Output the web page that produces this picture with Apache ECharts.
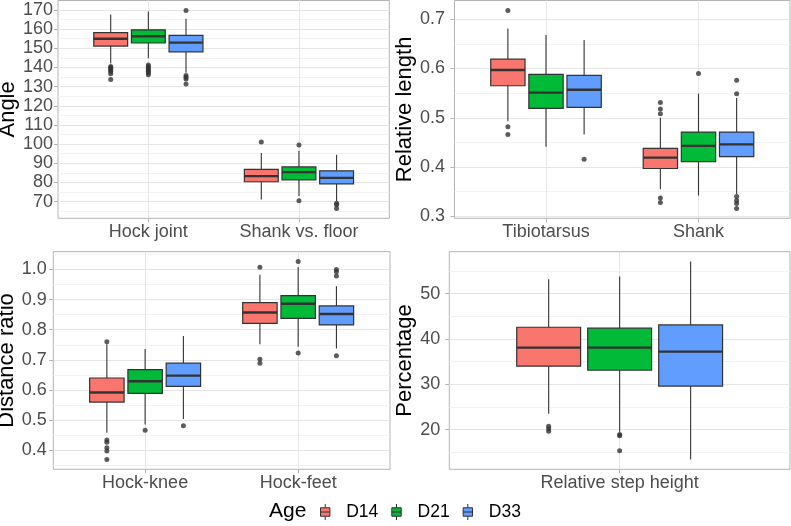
<!DOCTYPE html>
<html>
<head>
<meta charset="utf-8">
<script src="https://cdn.jsdelivr.net/npm/echarts@6/dist/echarts.min.js"></script>
<style>
html,body{margin:0;padding:0;background:#fff;}
#chart{width:791px;height:526px;}
</style>
</head>
<body>
<div id="chart"></div>
<script>
// ---------- data ----------
const ageGroups = ['D14', 'D21', 'D33'];
const groupColors = ['#F8766D', '#00BA38', '#619CFF'];

// boxes: [lower whisker, Q1, median, Q3, upper whisker] per category
const angleCats = ['Hock joint', 'Shank vs. floor'];
const angleD14 = [[142.0, 151.1, 154.9, 158.1, 167.6], [71.2, 80.4, 83.3, 86.8, 95.4]];
const angleD21 = [[144.8, 152.7, 156.2, 159.6, 169.1], [72.9, 81.4, 85.4, 88.1, 96.6]];
const angleD33 = [[137.2, 148.1, 152.9, 156.7, 165.3], [70.3, 79.3, 82.4, 86.1, 94.5]];
const angleOutD14 = [[140.4, 139.9, 139.3, 138.6, 137.8, 136.7, 133.7], [101.1]];
const angleOutD21 = [[141.3, 140.4, 139.6, 138.8, 138.0, 137.2, 136.2], [99.5, 70.5]];
const angleOutD33 = [[169.7, 135.8, 134.9, 134.0, 131.3], [69.2, 68.4, 66.5]];
const angleTicks = [70, 80, 90, 100, 110, 120, 130, 140, 150, 160, 170];
const angleMinorTicks = [65, 75, 85, 95, 105, 115, 125, 135, 145, 155, 165];

const lengthCats = ['Tibiotarsus', 'Shank'];
const lengthD14 = [[0.493, 0.565, 0.597, 0.619, 0.681], [0.355, 0.397, 0.419, 0.438, 0.500]];
const lengthD21 = [[0.441, 0.519, 0.551, 0.588, 0.668], [0.342, 0.411, 0.443, 0.471, 0.549]];
const lengthD33 = [[0.466, 0.521, 0.557, 0.586, 0.658], [0.345, 0.421, 0.446, 0.471, 0.540]];
const lengthOutD14 = [[0.718, 0.482, 0.466], [0.531, 0.518, 0.508, 0.337, 0.328]];
const lengthOutD21 = [[], [0.590]];
const lengthOutD33 = [[0.416], [0.576, 0.549, 0.340, 0.332, 0.326, 0.316]];
const lengthTicks = [0.3, 0.4, 0.5, 0.6, 0.7];
const lengthMinorTicks = [0.35, 0.45, 0.55, 0.65];

const distCats = ['Hock-knee', 'Hock-feet'];
const distD14 = [[0.458, 0.560, 0.592, 0.640, 0.752], [0.752, 0.821, 0.857, 0.890, 0.982]];
const distD21 = [[0.486, 0.589, 0.629, 0.668, 0.736], [0.744, 0.838, 0.886, 0.913, 1.008]];
const distD33 = [[0.504, 0.612, 0.648, 0.689, 0.779], [0.738, 0.816, 0.852, 0.879, 0.944]];
const distOutD14 = [[0.760, 0.434, 0.427, 0.409, 0.398, 0.370], [1.007, 0.702, 0.689]];
const distOutD21 = [[0.467], [1.026, 0.723]];
const distOutD33 = [[0.482], [1.000, 0.992, 0.978, 0.714]];
const distTicks = [0.4, 0.5, 0.6, 0.7, 0.8, 0.9, 1.0];
const distMinorTicks = [0.35, 0.45, 0.55, 0.65, 0.75, 0.85, 0.95, 1.05];

const stepCats = ['Relative step height'];
const stepD14 = [[23.5, 34.0, 38.1, 42.6, 53.2]];
const stepD21 = [[19.5, 33.1, 38.1, 42.4, 53.8]];
const stepD33 = [[13.4, 29.6, 37.2, 43.1, 57.1]];
const stepOutD14 = [[20.7, 20.2, 19.6]];
const stepOutD21 = [[18.9, 18.6, 15.3]];
const stepOutD33 = [[]];
const stepTicks = [20, 30, 40, 50];
const stepMinorTicks = [15, 25, 35, 45, 55];

// ---------- layout / style ----------
const FONT = '"Liberation Sans", Arial, Helvetica, sans-serif';
const DODGE = [-0.25, 0, 0.25];
const BOX_W = 0.225;

const panels = [
  { cats: angleCats, boxes: [angleD14, angleD21, angleD33], outs: [angleOutD14, angleOutD21, angleOutD33],
    major: angleTicks, minor: angleMinorTicks, name: 'Angle', digits: 0,
    rect: { left: 58, top: 0.5, width: 331.3, height: 217.8 }, labelMargin: 5, nameGap: 37 },
  { cats: lengthCats, boxes: [lengthD14, lengthD21, lengthD33], outs: [lengthOutD14, lengthOutD21, lengthOutD33],
    major: lengthTicks, minor: lengthMinorTicks, name: 'Relative length', digits: 1,
    rect: { left: 454.5, top: 0.5, width: 335.5, height: 217.8 }, labelMargin: 9.5, nameGap: 33 },
  { cats: distCats, boxes: [distD14, distD21, distD33], outs: [distOutD14, distOutD21, distOutD33],
    major: distTicks, minor: distMinorTicks, name: 'Distance ratio', digits: 1,
    rect: { left: 53.3, top: 251.7, width: 336.7, height: 217.6 }, labelMargin: 6.5, nameGap: 33 },
  { cats: stepCats, boxes: [stepD14, stepD21, stepD33], outs: [stepOutD14, stepOutD21, stepOutD33],
    major: stepTicks, minor: stepMinorTicks, name: 'Percentage', digits: 0,
    rect: { left: 449.3, top: 251.7, width: 340.7, height: 217.6 }, labelMargin: 9, nameGap: 29 }
];

function renderBox(params, api) {
  const x = api.value(0);
  const lo = api.coord([x, api.value(1)]);
  const q1 = api.coord([x, api.value(2)]);
  const med = api.coord([x, api.value(3)]);
  const q3 = api.coord([x, api.value(4)]);
  const hi = api.coord([x, api.value(5)]);
  const half = api.size([BOX_W, 0])[0] / 2;
  const color = api.visual('color');
  const edge = '#333333';
  return {
    type: 'group',
    children: [
      { type: 'line', shape: { x1: lo[0], y1: lo[1], x2: q1[0], y2: q1[1] }, style: { stroke: edge, lineWidth: 1.1 } },
      { type: 'line', shape: { x1: q3[0], y1: q3[1], x2: hi[0], y2: hi[1] }, style: { stroke: edge, lineWidth: 1.1 } },
      { type: 'rect', shape: { x: q3[0] - half, y: q3[1], width: half * 2, height: q1[1] - q3[1] },
        style: { fill: color, stroke: edge, lineWidth: 1.2 } },
      { type: 'line', shape: { x1: med[0] - half, y1: med[1], x2: med[0] + half, y2: med[1] },
        style: { stroke: edge, lineWidth: 2.4 } }
    ]
  };
}

const grids = [], xAxes = [], yAxes = [], series = [];
panels.forEach(function (p, pi) {
  let all = [];
  p.boxes.forEach(g => g.forEach(b => { all = all.concat(b); }));
  p.outs.forEach(g => g.forEach(o => { all = all.concat(o); }));
  const dmin = Math.min.apply(null, all), dmax = Math.max.apply(null, all);
  const pad = (dmax - dmin) * 0.05;
  const ymin = dmin - pad, ymax = dmax + pad;
  const n = p.cats.length;
  const catPos = p.cats.map((c, i) => i + 1);

  grids.push({
    left: p.rect.left, top: p.rect.top, width: p.rect.width, height: p.rect.height,
    show: true, borderColor: '#B3B3B3', borderWidth: 1, backgroundColor: 'transparent',
    containLabel: false, outerBoundsMode: 'none'
  });
  xAxes.push({
    type: 'value', gridIndex: pi, min: 0.4, max: n + 0.6,
    axisLine: { show: false, onZero: false },
    axisTick: { show: true, length: 4, lineStyle: { color: '#B3B3B3', width: 1 }, customValues: catPos },
    axisLabel: { show: true, customValues: catPos, margin: 5, color: '#4D4D4D', fontSize: 18, fontFamily: FONT,
      formatter: function (v) { return p.cats[Math.round(v) - 1] || ''; } },
    splitLine: { show: true, lineStyle: { color: '#E6E6E6', width: 1 } }
  });
  yAxes.push({
    type: 'value', gridIndex: pi, min: ymin, max: ymax,
    name: p.name, nameLocation: 'middle', nameGap: p.nameGap,
    nameTextStyle: { color: '#000', fontSize: 22, fontFamily: FONT },
    axisLine: { show: false, onZero: false },
    axisTick: { show: true, length: 4, lineStyle: { color: '#B3B3B3', width: 1 }, customValues: p.major },
    axisLabel: { show: true, customValues: p.major, margin: p.labelMargin, color: '#4D4D4D', fontSize: 18, fontFamily: FONT,
      formatter: function (v) { return v.toFixed(p.digits); } },
    splitLine: { show: true, lineStyle: { color: '#E6E6E6', width: 1 } }
  });
  yAxes.push({
    type: 'value', gridIndex: pi, min: ymin, max: ymax, position: 'left', offset: 0,
    axisLine: { show: false, onZero: false },
    axisTick: { show: false, customValues: p.minor },
    axisLabel: { show: false, customValues: p.minor },
    splitLine: { show: true, lineStyle: { color: '#F3F3F3', width: 1 } }
  });

  ageGroups.forEach(function (age, g) {
    series.push({
      type: 'custom', name: age, xAxisIndex: pi, yAxisIndex: pi * 2,
      color: groupColors[g], itemStyle: { color: groupColors[g] },
      encode: { x: 0, y: [1, 2, 3, 4, 5] },
      renderItem: renderBox,
      data: p.boxes[g].map((b, c) => [c + 1 + DODGE[g]].concat(b)),
      z: 3, silent: true, animation: false
    });
    const pts = [];
    p.outs[g].forEach((vals, c) => vals.forEach(v => pts.push([c + 1 + DODGE[g], v])));
    series.push({
      type: 'scatter', name: 'outlier', xAxisIndex: pi, yAxisIndex: pi * 2,
      symbol: 'circle', symbolSize: 5, itemStyle: { color: '#333333' },
      data: pts, z: 4, silent: true, animation: false
    });
  });
});

const chart = echarts.init(document.getElementById('chart'), null, { renderer: 'canvas' });
chart.setOption({
  animation: false,
  backgroundColor: '#ffffff',
  textStyle: { fontFamily: FONT },
  title: {
    text: 'Age', left: 264, top: 496,
    textStyle: { color: '#000', fontSize: 21, fontWeight: 'normal', fontFamily: FONT }
  },
  legend: {
    data: ageGroups, left: 315, top: 498, orient: 'horizontal',
    icon: 'path://M5,0L5,4M0,4L10,4L10,13L0,13ZM0,8.5L10,8.5M5,13L5,17',
    itemWidth: 10, itemHeight: 16, itemGap: 13,
    itemStyle: { borderColor: '#333333', borderWidth: 1 },
    textStyle: { color: '#000', fontSize: 17.5, fontFamily: FONT, padding: [0, 0, 0, 11] },
    selectedMode: false
  },
  grid: grids,
  xAxis: xAxes,
  yAxis: yAxes,
  series: series
});
</script>
</body>
</html>
